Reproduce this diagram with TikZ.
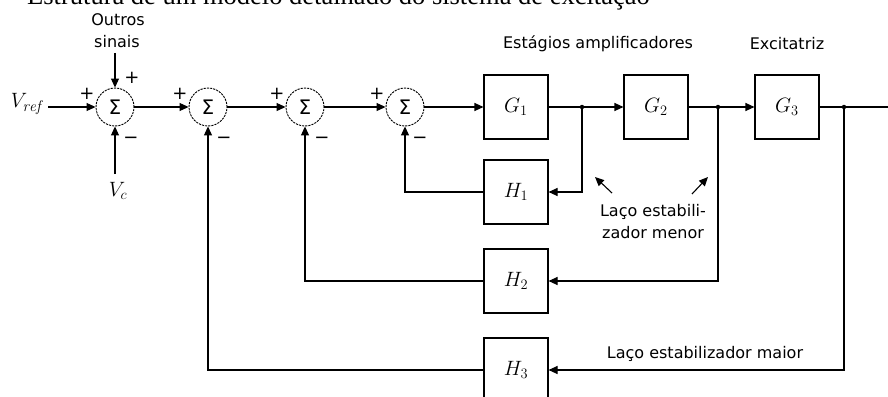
\documentclass[tikz,border=0pt]{standalone}
\usepackage{fontspec}
\usetikzlibrary{arrows.meta}
\newfontfamily\dejavu{DejaVu Sans}
\newfontfamily\ttlfont{Liberation Serif}
\begin{document}
\begin{tikzpicture}[x=1pt,y=-1pt,
  sumnode/.style={circle,draw,dash pattern=on 2.2pt off 1pt,minimum size=38pt,inner sep=0pt,line width=0.9pt,font=\dejavu\fontsize{20}{22}\selectfont},
  blk/.style={draw,minimum width=64pt,minimum height=64pt,inner sep=0pt,line width=1.1pt,font=\fontsize{22}{26}\selectfont},
  conn/.style={line width=1.1pt},
  arr/.style={conn,-{Triangle[length=9pt,width=8pt]}},
  lbl/.style={font=\dejavu\fontsize{16}{19}\selectfont,inner sep=0pt},
  sgn/.style={font=\dejavu\fontsize{18}{20}\selectfont,inner sep=0pt},
  mth/.style={font=\fontsize{22}{26}\selectfont,inner sep=0pt},
  jdot/.style={circle,fill,inner sep=0pt,minimum size=4.5pt}]
\useasboundingbox (0,0) rectangle (888,396);
\clip (0,0) rectangle (888,396);
\node[anchor=base west,font=\ttlfont\fontsize{26.5}{30}\selectfont,inner sep=0pt] (title) at (27,5) {Estrutura de um modelo detalhado do sistema de excitação};

% summing junctions
\node[sumnode] (s1) at (115,107) {Σ};
\node[sumnode] (s2) at (208,107) {Σ};
\node[sumnode] (s3) at (305,107) {Σ};
\node[sumnode] (s4) at (405,107) {Σ};

% blocks
\node[blk] (G1) at (516,107) {$G_1$};
\node[blk] (G2) at (656,107) {$G_2$};
\node[blk] (G3) at (787,107) {$G_3$};
\node[blk] (H1) at (516,192) {$H_1$};
\node[blk] (H2) at (516,281) {$H_2$};
\node[blk] (H3) at (516,370) {$H_3$};

% junction dots
\node[jdot] (j1) at (582,107) {};
\node[jdot] (j2) at (718,107) {};
\node[jdot] (j3) at (844,107) {};

% inputs / labels
\node[mth] (vref) at (26,104) {$V_{\mathit{ref}}$};
\node[mth] (vc) at (118,191) {$V_c$};
\node[lbl] (outros) at (118,20) {Outros};
\node[lbl] (sinais) at (117,42) {sinais};
\coordinate (vin) at (48,107);
\coordinate (top) at (115,53);
\coordinate (bot) at (115,174);
\coordinate (out) at (899,107);

% signs
\node[sgn] (p1a) at (87,94) {+};
\node[sgn] (p1b) at (132,78) {+};
\node[sgn] (m1) at (131,140) {−};
\node[sgn] (p2) at (180,94) {+};
\node[sgn] (m2) at (224,140) {−};
\node[sgn] (p3) at (277,94) {+};
\node[sgn] (m3) at (322,140) {−};
\node[sgn] (p4) at (377,94) {+};
\node[sgn] (m4) at (420,140) {−};

% forward path
\draw[arr] (vin) -- (s1.west);
\draw[arr] (top) -- (s1.north);
\draw[arr] (bot) -- (s1.south);
\draw[arr] (s1) -- (s2);
\draw[arr] (s2) -- (s3);
\draw[arr] (s3) -- (s4);
\draw[arr] (s4) -- (G1);
\draw[arr] (G1) -- (G2);
\draw[arr] (G2) -- (G3);
\draw[arr] (G3) -- (out);

% feedback loops
\draw[arr] (j1) |- (H1.east);
\draw[arr] (H1.west) -| (s4.south);
\draw[arr] (j2) |- (H2.east);
\draw[arr] (H2.west) -| (s3.south);
\draw[arr] (j3) |- (H3.east);
\draw[arr] (H3.west) -| (s2.south);

% annotations
\node[lbl] (estag) at (598,44) {Estágios amplificadores};
\node[lbl] (excit) at (787,44) {Excitatriz};
\node[lbl] (lm1) at (653,212) {Laço estabili-};
\node[lbl] (lm2) at (653,233) {zador menor};
\node[lbl] (lM) at (705,354) {Laço estabilizador maior};
\coordinate (a1s) at (612,193);
\coordinate (a1e) at (595,177);
\coordinate (a2s) at (692,194);
\coordinate (a2e) at (708,177);
\draw[arr] (a1s) -- (a1e);
\draw[arr] (a2s) -- (a2e);
\end{tikzpicture}
\end{document}
